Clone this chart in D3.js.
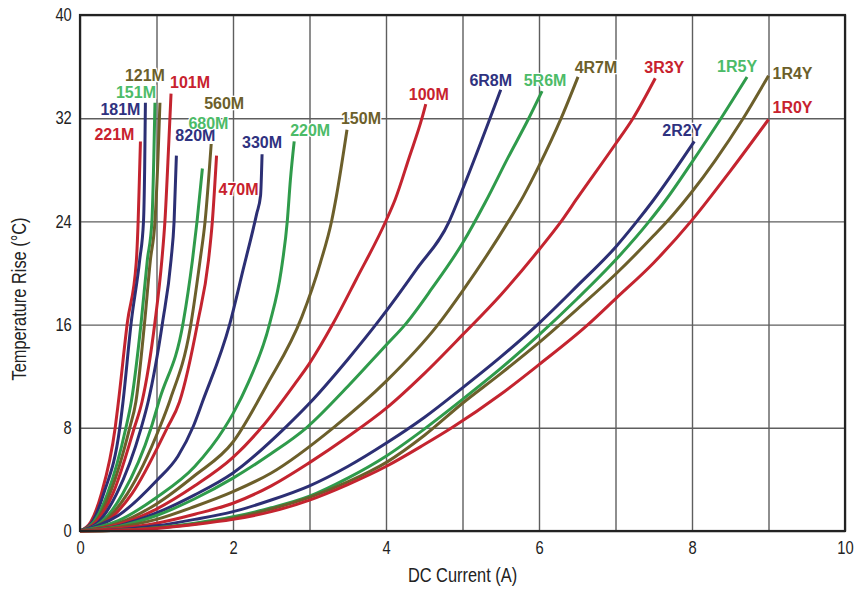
<!DOCTYPE html>
<html>
<head>
<meta charset="utf-8">
<script src="https://cdn.jsdelivr.net/npm/d3@7"></script>
<style>
  body { margin: 0; background: #fff; }
  .tick text { font-family: "Liberation Sans", Arial, sans-serif; font-size: 18px; fill: #222; }
  .axis-title { font-family: "Liberation Sans", Arial, sans-serif; font-size: 20px; fill: #222; }
  .curve-label { font-family: "Liberation Sans", Arial, sans-serif; font-weight: bold; font-size: 16px; }
</style>
</head>
<body>
<svg id="chart" width="856" height="589"></svg>
<script>
// part numbers, left (steepest) to right
var names = ["221M","181M","151M","121M","101M","820M","680M","560M","470M","330M","220M",
             "150M","100M","6R8M","5R6M","4R7M","3R3Y","2R2Y","1R5Y","1R4Y","1R0Y"];

// [DC current (A), temperature rise (°C)]
var c221M = [[0,0],[0.14,0.7],[0.28,2.9],[0.46,8],[0.50,9.9],[0.62,16.2],[0.735,20.8],[0.76,24],[0.775,27],[0.79,30.2]];
var c181M = [[0,0],[0.16,0.7],[0.31,2.9],[0.52,8],[0.56,9.9],[0.67,16.2],[0.78,21],[0.83,24],[0.845,28],[0.855,33.2]];
var c151M = [[0,0],[0.18,0.7],[0.36,2.9],[0.60,8],[0.67,10],[0.80,16.2],[0.88,21],[0.94,24],[0.965,29],[0.98,33.2]];
var c121M = [[0,0],[0.20,0.7],[0.39,2.9],[0.65,8],[0.73,10],[0.845,16.2],[0.92,21],[0.98,24],[1.02,29],[1.045,33.2]];
var c101M = [[0,0],[0.21,0.7],[0.43,2.9],[0.71,8],[0.81,10],[0.98,16.2],[1.07,21],[1.11,24],[1.16,30],[1.19,33.9]];
var c820M = [[0,0],[0.24,0.7],[0.48,2.9],[0.80,8],[0.89,10],[1.08,16.2],[1.19,21],[1.23,24],[1.26,29.1]];
var c680M = [[0,0],[0.28,0.7],[0.56,2.9],[0.93,8],[1.04,10.2],[1.35,16.2],[1.47,21],[1.53,24],[1.60,28.1]];
var c560M = [[0,0],[0.31,0.7],[0.62,2.9],[1.04,8],[1.18,10.2],[1.44,15.7],[1.57,21],[1.635,24],[1.715,30.0]];
var c470M = [[0,0],[0.34,0.7],[0.68,2.9],[1.14,8],[1.30,10],[1.54,16.2],[1.68,21],[1.73,24],[1.785,29.1]];
var c330M = [[0,0],[0.5,1.2],[1.0,3.9],[1.28,5.8],[1.48,8.1],[1.60,10],[1.96,16.1],[2.13,20.2],[2.31,24.6],[2.36,26],[2.38,29.2]];
var c220M = [[0,0],[0.5,0.8],[1,2.6],[1.5,5.0],[1.89,8],[2.0,9.1],[2.2,11.5],[2.48,16.1],[2.63,20.2],[2.71,24.05],[2.75,27.2],[2.80,30.2]];
var c150M = [[0,0],[0.5,0.6],[1,2.1],[1.5,4.3],[2,6.9],[2.44,11.3],[2.90,16.6],[3.14,20.75],[3.29,24.05],[3.35,25.9],[3.49,31.1]];
var c100M = [[0,0],[0.5,0.5],[1,1.7],[1.5,3.5],[2,5.7],[2.37,8],[2.82,11.5],[3.0,13.0],[3.31,16.1],[3.61,19.5],[4.0,24.05],[4.12,25.7],[4.3,28.9],[4.47,32],[4.52,33.1]];
var c6R8M = [[0,0],[0.5,0.4],[1,1.4],[1.5,2.8],[2,4.5],[2.68,8],[3,9.9],[3.5,13.3],[3.92,16.4],[4.4,20.3],[4.83,24.05],[4.94,25.6],[5.5,34.2]];
var c5R6M = [[0,0],[0.5,0.35],[1,1.2],[1.5,2.5],[2,4.1],[2.5,6.0],[2.96,8],[3.5,11.2],[4,14.4],[4.25,16],[4.6,18.8],[5.0,22.3],[5.3,25.5],[5.6,29],[5.85,31.8],[6.04,34.1]];
var c4R7M = [[0,0],[0.5,0.3],[1,0.9],[1.5,1.9],[2,3.05],[2.5,4.5],[3.31,8],[4,11.6],[4.68,16],[5,18.6],[5.6,24],[5.8,26],[6,28.3],[6.29,32],[6.51,35.2]];
var c3R3Y = [[0,0],[0.5,0.2],[1,0.6],[1.5,1.3],[2,2.15],[2.5,3.5],[3,5.3],[3.5,7.3],[4,9.5],[4.5,12.2],[5,15.2],[5.5,18.3],[6,21.8],[6.29,24],[6.5,25.8],[7,30.0],[7.23,32],[7.52,35.1]];
var c2R2Y = [[0,0],[0.5,0.1],[1,0.4],[1.5,0.9],[2,1.5],[2.5,2.4],[3,3.5],[3.5,5.0],[4,6.8],[4.5,8.8],[5,11.1],[5.5,13.5],[6,16.1],[6.5,19],[7,22.0],[7.28,24],[7.49,25.6],[8.03,30.2]];
var c1R5Y = [[0,0],[0.5,0.05],[1,0.25],[1.5,0.6],[2,1.1],[2.5,1.8],[3,2.7],[3.5,4.1],[4,5.8],[4.5,7.9],[5,10.2],[5.5,12.6],[6,15.2],[6.5,18],[7,21.0],[7.44,24],[7.65,25.6],[8,28.6],[8.38,32],[8.72,35.2]];
var c1R4Y = [[0,0],[0.5,0.05],[1,0.25],[1.5,0.55],[2,1.0],[2.5,1.7],[3,2.6],[3.5,3.8],[4,5.3],[4.5,7.4],[5,9.9],[5.5,12.2],[6,14.6],[6.5,17.2],[7,19.9],[7.5,22.9],[7.75,24.5],[8,26.3],[8.3,28.7],[8.66,31.9],[9,35.3]];
var c1R0Y = [[0,0],[0.5,0.05],[1,0.2],[1.5,0.5],[2,0.9],[2.5,1.5],[3,2.4],[3.5,3.6],[4,5.0],[4.5,6.7],[4.86,8],[5.5,10.6],[6,12.9],[6.64,16],[7,18.0],[7.5,20.8],[8,24.1],[8.5,27.9],[9,31.9]];

var curves = [c221M,c181M,c151M,c121M,c101M,c820M,c680M,c560M,c470M,c330M,c220M,
              c150M,c100M,c6R8M,c5R6M,c4R7M,c3R3Y,c2R2Y,c1R5Y,c1R4Y,c1R0Y];

var xTicks = [0, 2, 4, 6, 8, 10];
var yTicks = [0, 8, 16, 24, 32, 40];

// colours repeat red, navy, green, olive
var lineColors = ["#c4242f", "#2c2f74", "#2f9b4b", "#6c5f2b"];
var textColors = ["#c8222e", "#2f3280", "#4cbb68", "#6c5f2b"];

// label placement: pixel offset of text (centre, baseline) from the curve end
var labelOffset = {
  "221M": [-26, -1], "181M": [-25, 12], "151M": [-19, -5], "121M": [-15, -22],
  "101M": [19, -6], "820M": [19, -15], "680M": [6, -40], "560M": [13, -35],
  "470M": [22, 39], "330M": [0, -6], "220M": [16, -5], "150M": [14, -6],
  "100M": [3, -4], "6R8M": [-10, -4], "5R6M": [3, -5], "4R7M": [18, -4],
  "3R3Y": [9, -5], "2R2Y": [-12, -5], "1R5Y": [-10, -5], "1R4Y": [24, 3],
  "1R0Y": [24, -6]
};

// the reference uses a condensed face; squeeze the regular one
var narrow = 0.82;

var margin = {top: 15, right: 11, bottom: 58, left: 80},
    width = 856 - margin.left - margin.right,
    height = 589 - margin.top - margin.bottom;

var svg = d3.select("#chart")
  .append("g")
    .attr("transform", "translate(" + margin.left + "," + margin.top + ")");

var x = d3.scaleLinear().domain([0, 10]).range([0, width]);
var y = d3.scaleLinear().domain([0, 40]).range([height, 0]);

// grid
svg.append("g")
  .attr("transform", "translate(0," + height + ")")
  .call(d3.axisBottom(x).ticks(10).tickSize(-height).tickFormat(""))
  .call(function(g) {
    g.select(".domain").remove();
    g.selectAll("line").attr("stroke", "#5e5e5e").attr("stroke-width", 1.4);
  });
svg.append("g")
  .call(d3.axisLeft(y).tickValues(yTicks).tickSize(-width).tickFormat(""))
  .call(function(g) {
    g.select(".domain").remove();
    g.selectAll("line").attr("stroke", "#5e5e5e").attr("stroke-width", 1.4);
  });

// tick labels
svg.append("g")
  .attr("transform", "translate(0," + height + ")")
  .call(d3.axisBottom(x).tickValues(xTicks).tickSize(0).tickPadding(10).tickFormat(d3.format("d")))
  .call(function(g) {
    g.select(".domain").remove();
    g.selectAll("text").attr("transform", "scale(" + narrow + ",1)");
  });
svg.append("g")
  .call(d3.axisLeft(y).tickValues(yTicks).tickSize(0).tickPadding(10).tickFormat(d3.format("d")))
  .call(function(g) {
    g.select(".domain").remove();
    g.selectAll("text").attr("transform", "scale(" + narrow + ",1)");
  });

// curves
var line = d3.line()
  .x(function(d) { return x(d[0]); })
  .y(function(d) { return y(d[1]); })
  .curve(d3.curveMonotoneX);

svg.append("g")
  .selectAll("path")
  .data(curves)
  .enter()
  .append("path")
    .attr("d", line)
    .attr("fill", "none")
    .attr("stroke", function(d, i) { return lineColors[i % 4]; })
    .attr("stroke-width", 3);

// frame
svg.append("rect")
  .attr("width", width).attr("height", height)
  .attr("fill", "none").attr("stroke", "#222").attr("stroke-width", 2.2);

// curve labels
svg.append("g")
  .selectAll("text")
  .data(curves)
  .enter()
  .append("text")
    .attr("class", "curve-label")
    .attr("x", function(d, i) { return x(d[d.length - 1][0]) + labelOffset[names[i]][0]; })
    .attr("y", function(d, i) { return y(d[d.length - 1][1]) + labelOffset[names[i]][1]; })
    .attr("text-anchor", "middle")
    .attr("fill", function(d, i) { return textColors[i % 4]; })
    .attr("stroke", "#fff")
    .attr("stroke-width", 2.5)
    .attr("paint-order", "stroke")
    .text(function(d, i) { return names[i]; });

// axis titles
svg.append("text")
  .attr("class", "axis-title")
  .attr("transform", "translate(" + (width / 2) + "," + (height + 51) + ") scale(" + narrow + ",1)")
  .attr("text-anchor", "middle")
  .text("DC Current (A)");
svg.append("text")
  .attr("class", "axis-title")
  .attr("transform", "translate(-54," + (height / 2 + 26) + ") rotate(-90) scale(" + narrow + ",1)")
  .attr("text-anchor", "middle")
  .text("Temperature Rise (°C)");
</script>
</body>
</html>
